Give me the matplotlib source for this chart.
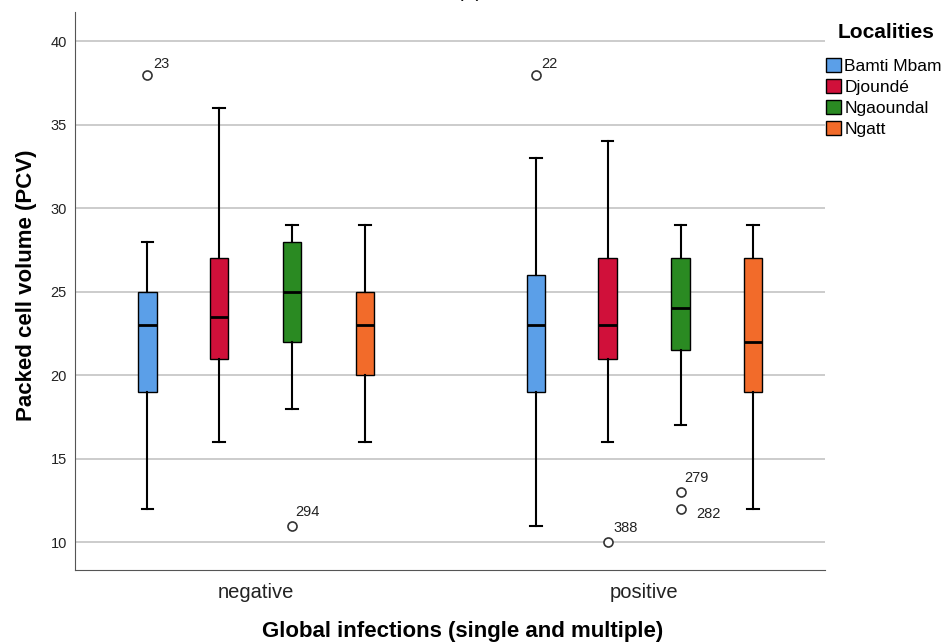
import matplotlib.pyplot as plt
from matplotlib.patches import Patch

plt.rcParams['font.family'] = ['Liberation Sans', 'DejaVu Sans']

# Données
groups = ["negative", "positive"]
localities = ["Bamti Mbam", "Djoundé", "Ngaoundal", "Ngatt"]
colors = ["#5B9FE8", "#D0103A", "#2A8A22", "#F26B2A"]

# [whisker bas, Q1, médiane, Q3, whisker haut] par groupe puis par localité
neg_stats = [
    [12, 19, 23, 25, 28],
    [16, 21, 23.5, 27, 36],
    [18, 22, 25, 28, 29],
    [16, 20, 23, 25, 29],
]
pos_stats = [
    [11, 19, 23, 26, 33],
    [16, 21, 23, 27, 34],
    [17, 21.5, 24, 27, 29],
    [12, 19, 22, 27, 29],
]
neg_fliers = [[38], [], [11], []]
pos_fliers = [[38], [10], [13, 12], []]
neg_flier_labels = [["23"], [], ["294"], []]
pos_flier_labels = [["22"], ["388"], ["279", "282"], []]

offsets = [-0.28, -0.095, 0.093, 0.28]
label_offsets = {"23": (4, 3), "294": (2, 5), "22": (4, 3), "388": (4, 5),
                 "279": (3, 5), "282": (11, -9)}

fig = plt.figure(figsize=(9.52, 6.43), dpi=100)
ax = fig.add_axes([0.079, 0.113, 0.788, 0.868])

for gi, (stats, fliers, flabels) in enumerate(zip([neg_stats, pos_stats],
                                                  [neg_fliers, pos_fliers],
                                                  [neg_flier_labels, pos_flier_labels])):
    for li in range(4):
        s = stats[li]
        d = dict(whislo=s[0], q1=s[1], med=s[2], q3=s[3], whishi=s[4], fliers=fliers[li])
        pos = gi + offsets[li]
        ax.bxp([d], positions=[pos], widths=0.047, patch_artist=True,
               boxprops=dict(facecolor=colors[li], edgecolor="black", linewidth=1),
               medianprops=dict(color="black", linewidth=2),
               whiskerprops=dict(color="black", linewidth=1.5),
               capprops=dict(color="black", linewidth=1.5),
               capwidths=0.03,
               flierprops=dict(marker="o", markerfacecolor="white",
                               markeredgecolor="#333333", markersize=6.5,
                               markeredgewidth=1.2),
               manage_ticks=False, zorder=3)
        for val, lab in zip(fliers[li], flabels[li]):
            dx, dy = label_offsets[lab]
            ax.annotate(lab, (pos, val), xytext=(dx, dy), textcoords="offset points",
                        fontsize=10.5, color="#222222", ha="left", va="bottom")

ax.set_xlim(-0.466, 1.466)
ax.set_ylim(8.32, 41.74)
ax.set_yticks([10, 15, 20, 25, 30, 35, 40])
ax.set_xticks([0, 1])
ax.set_xticklabels(groups, fontsize=14.5, color="#222222")
ax.tick_params(axis="y", labelsize=10.5, length=0, pad=6, labelcolor="#222222")
ax.tick_params(axis="x", length=0, pad=9)
ax.yaxis.grid(True, color="#C8C8C8", linewidth=1.3)
ax.set_axisbelow(True)
for sp in ["top", "right"]:
    ax.spines[sp].set_visible(False)
for sp in ["left", "bottom"]:
    ax.spines[sp].set_color("#555555")

ax.set_ylabel("Packed cell volume (PCV)", fontsize=16, fontweight="bold", labelpad=10)
ax.set_xlabel("Global infections (single and multiple)", fontsize=16, fontweight="bold", labelpad=14)
ax.yaxis.label.set_y(0.511)
ax.xaxis.label.set_x(0.517)

# légende
fig.text(886 / 952, 1 - 33 / 643, "Localities", fontsize=15, fontweight="bold",
         ha="center", va="center")
handles = [Patch(facecolor=c, edgecolor="black", label=l) for c, l in zip(colors, localities)]
fig.legend(handles=handles, loc="upper left",
           bbox_to_anchor=(826 / 952, 1 - 58 / 643), frameon=False, fontsize=12.5,
           handlelength=0.85, handleheight=0.85, handletextpad=0.2,
           labelspacing=0.3, borderaxespad=0, borderpad=0)

# titre coupé en haut
fig.text(0.494, 1.004, "(B)", fontsize=14, ha="center", va="baseline")

fig.savefig("out.png", dpi=100)
